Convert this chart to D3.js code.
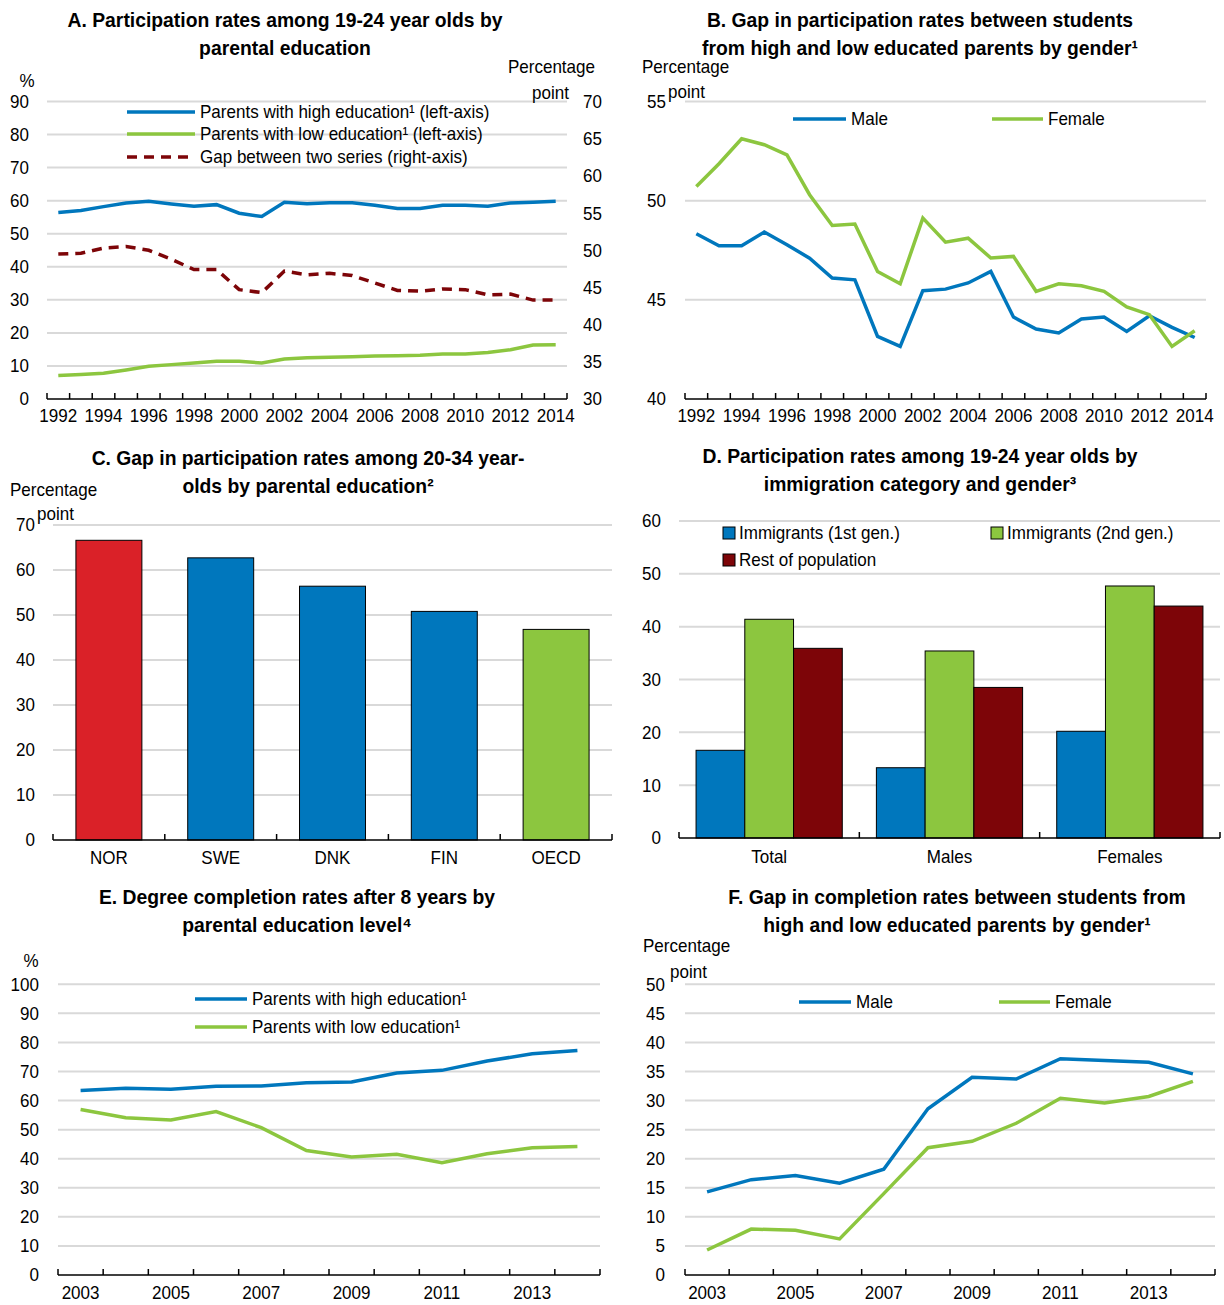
<!DOCTYPE html>
<html>
<head>
<meta charset="utf-8">
<script src="https://cdn.jsdelivr.net/npm/d3@7"></script>
<style>
  body { margin: 0; background: #fff; }
  svg text { font-family: 'Liberation Sans', Arial, sans-serif; fill: #000; }
  .title { font-weight: bold; font-size: 21px; }
  .lbl { font-size: 18.5px; }
</style>
</head>
<body>
<div id="chart"></div>
<script>
// ---- data ----
var years92 = d3.range(1992, 2015);
var years03 = d3.range(2003, 2015);

// A. participation rates 19-24 by parental education
var aHigh = [56.4, 57.0, 58.2, 59.3, 59.8, 59.0, 58.3, 58.8, 56.2, 55.2, 59.5, 59.1, 59.4, 59.4, 58.6, 57.6, 57.6, 58.6, 58.6, 58.3, 59.3, 59.5, 59.8];
var aLow = [7.1, 7.4, 7.8, 8.8, 9.9, 10.4, 10.9, 11.4, 11.4, 10.9, 12.1, 12.5, 12.6, 12.8, 13.0, 13.1, 13.2, 13.6, 13.6, 14.1, 14.9, 16.3, 16.4];
var aGap = [49.5, 49.6, 50.3, 50.5, 50.0, 48.8, 47.4, 47.4, 44.7, 44.3, 47.2, 46.7, 46.9, 46.6, 45.6, 44.6, 44.5, 44.8, 44.7, 44.0, 44.1, 43.3, 43.3];
var aLeftTicks = [0, 10, 20, 30, 40, 50, 60, 70, 80, 90];
var aRightTicks = [30, 35, 40, 45, 50, 55, 60, 65, 70];

// B. gap by gender
var bMale = [48.33, 47.73, 47.73, 48.42, 47.78, 47.1, 46.1, 46.01, 43.16, 42.65, 45.46, 45.54, 45.85, 46.43, 44.13, 43.53, 43.33, 44.03, 44.13, 43.41, 44.2, 43.61, 43.1];
var bFemale = [50.72, 51.86, 53.12, 52.82, 52.31, 50.3, 48.75, 48.82, 46.43, 45.81, 49.12, 47.91, 48.11, 47.11, 47.19, 45.43, 45.81, 45.71, 45.43, 44.64, 44.25, 42.65, 43.44];
var bTicks = [40, 45, 50, 55];

// C. gap 20-34 by country
var cCountries = ['NOR', 'SWE', 'DNK', 'FIN', 'OECD'];
var cValues = [66.6, 62.7, 56.4, 50.8, 46.8];
var cTicks = [0, 10, 20, 30, 40, 50, 60, 70];

// D. immigration category and gender
var dGroups = ['Total', 'Males', 'Females'];
var dSeries = ['Immigrants (1st gen.)', 'Immigrants (2nd gen.)', 'Rest of population'];
var dFirstGen = [16.6, 13.3, 20.2];
var dSecondGen = [41.4, 35.4, 47.7];
var dRest = [35.9, 28.5, 43.9];
var dTicks = [0, 10, 20, 30, 40, 50, 60];

// E. completion rates after 8 years
var eHigh = [63.5, 64.2, 63.9, 64.9, 65.0, 66.1, 66.4, 69.5, 70.4, 73.6, 76.1, 77.2];
var eLow = [56.9, 54.1, 53.3, 56.2, 50.7, 42.8, 40.6, 41.5, 38.6, 41.7, 43.8, 44.2];
var eTicks = [0, 10, 20, 30, 40, 50, 60, 70, 80, 90, 100];

// F. completion gap by gender
var fMale = [14.3, 16.4, 17.1, 15.8, 18.2, 28.6, 34.0, 33.7, 37.2, 36.9, 36.6, 34.6];
var fFemale = [4.3, 7.9, 7.7, 6.2, 14.0, 21.9, 23.0, 26.1, 30.4, 29.6, 30.7, 33.3];
var fTicks = [0, 5, 10, 15, 20, 25, 30, 35, 40, 45, 50];

var BLUE = '#0077bd', GREEN = '#8cc63f', RED = '#da2128', DARKRED = '#7d0508', GRID = '#d9d9d9';

var svg = d3.select('#chart').append('svg').attr('width', 1224).attr('height', 1305);

// ---- helpers ----
function title(cx, y, lines) {
  var t = svg.append('text').attr('class', 'title').attr('text-anchor', 'middle');
  lines.forEach(function (l, i) {
    t.append('tspan').attr('x', cx).attr('y', y + i * 28).text(l);
  });
}

function label(x, y, txt, anchor) {
  svg.append('text').attr('class', 'lbl').attr('x', x).attr('y', y)
    .attr('dy', '0.35em').attr('text-anchor', anchor || 'start').text(txt);
}

function grid(y, ticks, x0, x1) {
  svg.append('g').selectAll('line').data(ticks).join('line')
    .attr('x1', x0).attr('x2', x1)
    .attr('y1', function (d) { return y(d); }).attr('y2', function (d) { return y(d); })
    .attr('stroke', GRID).attr('stroke-width', 2);
}

function yLabels(y, ticks, x, anchor) {
  svg.append('g').selectAll('text').data(ticks).join('text')
    .attr('class', 'lbl').attr('x', x).attr('y', function (d) { return y(d); })
    .attr('dy', '0.35em').attr('text-anchor', anchor || 'end').text(function (d) { return d; });
}

// band axis with tick marks at band edges pointing up
function bandAxis(x, yBase, labelValues, labelDy) {
  var g = svg.append('g');
  var r = x.range();
  g.append('line').attr('x1', r[0]).attr('x2', r[1]).attr('y1', yBase).attr('y2', yBase)
    .attr('stroke', '#000').attr('stroke-width', 1.5);
  var edges = x.domain().map(function (d) { return x(d); }).concat([r[1]]);
  g.selectAll('line.tk').data(edges).join('line').attr('class', 'tk')
    .attr('x1', function (d) { return d; }).attr('x2', function (d) { return d; })
    .attr('y1', yBase).attr('y2', yBase - 6).attr('stroke', '#000').attr('stroke-width', 1.5);
  g.selectAll('text').data(labelValues).join('text').attr('class', 'lbl')
    .attr('x', function (d) { return x(d) + x.bandwidth() / 2; })
    .attr('y', yBase + labelDy).attr('dy', '0.35em').attr('text-anchor', 'middle')
    .text(function (d) { return d; });
}

function drawLine(x, y, cats, vals, color, dash) {
  var line = d3.line()
    .x(function (d, i) { return x(cats[i]) + x.bandwidth() / 2; })
    .y(function (d) { return y(d); });
  svg.append('path').datum(vals).attr('d', line).attr('fill', 'none')
    .attr('stroke', color).attr('stroke-width', 3.5)
    .attr('stroke-dasharray', dash || null);
}

function legendLine(x0, x1, y, color, txt, dash) {
  svg.append('line').attr('x1', x0).attr('x2', x1).attr('y1', y).attr('y2', y)
    .attr('stroke', color).attr('stroke-width', 3.5).attr('stroke-dasharray', dash || null);
  label(x1 + 5, y, txt);
}

function legendBox(x, y, color, txt) {
  svg.append('rect').attr('x', x).attr('y', y - 6).attr('width', 12).attr('height', 12)
    .attr('fill', color).attr('stroke', '#000').attr('stroke-width', 1);
  label(x + 16, y, txt);
}

// ---- Panel A ----
title(285, 27, ['A. Participation rates among 19-24 year olds by', 'parental education']);
var aX = d3.scaleBand().domain(years92).range([47, 567]);
var aY = d3.scaleLinear().domain([0, 90]).range([399, 101.5]);
var aY2 = d3.scaleLinear().domain([30, 70]).range([399, 101.5]);
grid(aY, aLeftTicks.slice(1), 47, 567);
yLabels(aY, aLeftTicks, 29);
yLabels(aY2, aRightTicks, 583, 'start');
label(27, 81, '%', 'middle');
label(595, 67, 'Percentage', 'end');
label(569, 93, 'point', 'end');
bandAxis(aX, 399, years92.filter(function (d) { return d % 2 === 0; }), 17);
drawLine(aX, aY, years92, aHigh, BLUE);
drawLine(aX, aY, years92, aLow, GREEN);
drawLine(aX, aY2, years92, aGap, DARKRED, '10,7');
legendLine(127, 195, 112, BLUE, 'Parents with high education¹ (left-axis)');
legendLine(127, 195, 134, GREEN, 'Parents with low education¹ (left-axis)');
legendLine(127, 195, 157, DARKRED, 'Gap between two series (right-axis)', '10,7');

// ---- Panel B ----
title(920, 27, ['B. Gap in participation rates between students', 'from high and low educated parents by gender¹']);
var bX = d3.scaleBand().domain(years92).range([685, 1206]);
var bY = d3.scaleLinear().domain([40, 55]).range([399, 101.5]);
grid(bY, bTicks.slice(1), 685, 1206);
yLabels(bY, bTicks, 666);
label(642, 67, 'Percentage');
label(668, 92, 'point');
bandAxis(bX, 399, years92.filter(function (d) { return d % 2 === 0; }), 17);
drawLine(bX, bY, years92, bMale, BLUE);
drawLine(bX, bY, years92, bFemale, GREEN);
legendLine(793, 846, 119, BLUE, 'Male');
legendLine(992, 1043, 119, GREEN, 'Female');

// ---- Panel C ----
title(308, 465, ['C. Gap in participation rates among 20-34 year-', 'olds by parental education²']);
var cX = d3.scaleBand().domain(cCountries).range([53, 612]).paddingInner(0.41).paddingOuter(0.205);
var cY = d3.scaleLinear().domain([0, 70]).range([840, 525]);
grid(cY, cTicks.slice(1), 53, 612);
yLabels(cY, cTicks, 35);
label(10, 490, 'Percentage');
label(37, 514, 'point');
var cColors = [RED, BLUE, BLUE, BLUE, GREEN];
svg.append('g').selectAll('rect').data(cValues).join('rect')
  .attr('x', function (d, i) { return cX(cCountries[i]); })
  .attr('y', function (d) { return cY(d); })
  .attr('width', cX.bandwidth())
  .attr('height', function (d) { return cY(0) - cY(d); })
  .attr('fill', function (d, i) { return cColors[i]; })
  .attr('stroke', '#000').attr('stroke-width', 1);
(function () {
  var step = cX.step(), x0 = 53;
  var g = svg.append('g');
  g.append('line').attr('x1', 53).attr('x2', 612).attr('y1', 840).attr('y2', 840).attr('stroke', '#000').attr('stroke-width', 1.5);
  g.selectAll('line.tk').data(d3.range(cCountries.length + 1)).join('line').attr('class', 'tk')
    .attr('x1', function (i) { return x0 + i * step; }).attr('x2', function (i) { return x0 + i * step; })
    .attr('y1', 840).attr('y2', 834).attr('stroke', '#000').attr('stroke-width', 1.5);
  g.selectAll('text').data(cCountries).join('text').attr('class', 'lbl')
    .attr('x', function (d) { return cX(d) + cX.bandwidth() / 2; }).attr('y', 858).attr('dy', '0.35em')
    .attr('text-anchor', 'middle').text(function (d) { return d; });
})();

// ---- Panel D ----
title(920, 463, ['D. Participation rates among 19-24 year olds by', 'immigration category and gender³']);
var dX = d3.scaleBand().domain(dGroups).range([679, 1220]);
var dX1 = d3.scaleBand().domain(dSeries).range([0, dX.bandwidth()]).paddingOuter(0.35);
var dY = d3.scaleLinear().domain([0, 60]).range([838, 521]);
grid(dY, dTicks.slice(1), 679, 1220);
yLabels(dY, dTicks, 661);
var dColors = [BLUE, GREEN, DARKRED];
var dVals = [dFirstGen, dSecondGen, dRest];
dSeries.forEach(function (s, si) {
  svg.append('g').selectAll('rect').data(dVals[si]).join('rect')
    .attr('x', function (d, i) { return dX(dGroups[i]) + dX1(s); })
    .attr('y', function (d) { return dY(d); })
    .attr('width', dX1.bandwidth())
    .attr('height', function (d) { return dY(0) - dY(d); })
    .attr('fill', dColors[si]).attr('stroke', '#000').attr('stroke-width', 1);
});
bandAxis(dX, 838, dGroups, 19);
legendBox(723, 533, BLUE, dSeries[0]);
legendBox(991, 533, GREEN, dSeries[1]);
legendBox(723, 560, DARKRED, dSeries[2]);

// ---- Panel E ----
title(297, 904, ['E. Degree completion rates after 8 years by', 'parental education level⁴']);
var eX = d3.scaleBand().domain(years03).range([58, 600]);
var eY = d3.scaleLinear().domain([0, 100]).range([1275, 984.3]);
grid(eY, eTicks.slice(1), 58, 600);
yLabels(eY, eTicks, 39);
label(31, 961, '%', 'middle');
bandAxis(eX, 1275, years03.filter(function (d) { return d % 2 === 1; }), 18);
drawLine(eX, eY, years03, eHigh, BLUE);
drawLine(eX, eY, years03, eLow, GREEN);
legendLine(195, 247, 999, BLUE, 'Parents with high education¹');
legendLine(195, 247, 1027, GREEN, 'Parents with low education¹');

// ---- Panel F ----
title(957, 904, ['F. Gap in completion rates between students from', 'high and low educated parents  by gender¹']);
var fX = d3.scaleBand().domain(years03).range([685, 1215]);
var fY = d3.scaleLinear().domain([0, 50]).range([1275, 984.3]);
grid(fY, fTicks.slice(1), 685, 1215);
yLabels(fY, fTicks, 665);
label(643, 946, 'Percentage');
label(670, 972, 'point');
bandAxis(fX, 1275, years03.filter(function (d) { return d % 2 === 1; }), 18);
drawLine(fX, fY, years03, fMale, BLUE);
drawLine(fX, fY, years03, fFemale, GREEN);
legendLine(799, 851, 1002, BLUE, 'Male');
legendLine(999, 1050, 1002, GREEN, 'Female');

// narrow the glyphs a little to mimic the condensed face of the original
svg.selectAll('text.lbl, text.title tspan').each(function () {
  var w = this.getComputedTextLength();
  this.setAttribute('textLength', (w * 0.92).toFixed(1));
  this.setAttribute('lengthAdjust', 'spacingAndGlyphs');
});
</script>
</body>
</html>
